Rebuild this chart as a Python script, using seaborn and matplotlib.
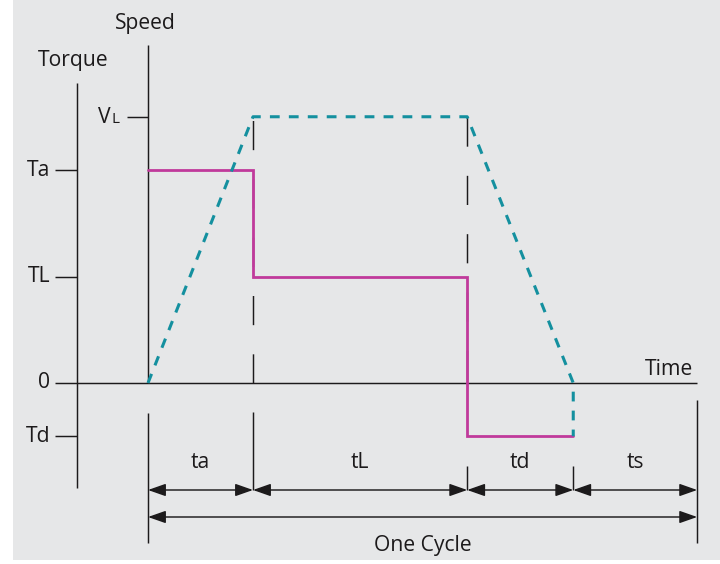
import matplotlib
matplotlib.use("Agg")
import matplotlib.pyplot as plt
from matplotlib.patches import Rectangle
import seaborn as sns

# durations of the phases (time units)
phase_names = ["ta", "tL", "td", "ts"]
durations = [1.0, 2.04, 1.01, 1.18]

# torque levels
torque_labels = ["Ta", "TL", "0", "Td"]
torque_levels = [2.0, 1.0, 0.0, -0.5]

# speed level
speed_label = "VL"
speed_max = 2.5

# boundaries of the phases
bounds = [0.0]
for d in durations:
    bounds.append(bounds[-1] + d)
t0, t1, t2, t3, t4 = bounds
Ta, TL, T0, Td = torque_levels

# torque profile (steps)
torque_t = [t0, t1, t1, t2, t2, t3]
torque_v = [Ta, Ta, TL, TL, Td, Td]

# speed profile (trapezoid, then the dashed drop to Td)
speed_t = [t0, t1, t2, t3, t3]
speed_v = [0.0, speed_max, speed_max, 0.0, Td]

BLACK = "#1c1a1b"
MAGENTA = "#c03a9b"
TEAL = "#14909f"
BG = "#e6e7e8"

sns.set_theme(style="white")
plt.rcParams["font.family"] = ["Open Sans", "DejaVu Sans"]
FS = 15.2

fig = plt.figure(figsize=(7.2, 5.64), dpi=100)
fig.patch.set_facecolor("white")
fig.patches.append(Rectangle((13 / 720, 4 / 564), 1, 1, transform=fig.transFigure,
                             facecolor=BG, edgecolor="none", zorder=-5))

ax = fig.add_axes([0, 0, 1, 1])
ax.set_facecolor("none")
ax.axis("off")

# pixel -> data mapping helpers (layout only)
PX_T = 105.0
PX_V = 106.5
def X(px):
    return (px - 148) / PX_T
def Y(py):
    return (383 - py) / PX_V

ax.set_xlim(X(0), X(720))
ax.set_ylim(Y(564), Y(0))

line_kw = dict(color=BLACK, lw=1.05, solid_capstyle="butt")

# axes lines
ax.plot([X(77), X(77)], [Y(83), Y(488)], **line_kw)          # torque axis
ax.plot([t0, t0], [Y(45), 0], **line_kw)                      # speed axis
ax.plot([X(55), t4], [0, 0], **line_kw)                       # time axis

# torque ticks and labels
for lab, lev in zip(torque_labels, torque_levels):
    if lab != "0":
        ax.plot([X(55), X(77)], [lev, lev], **line_kw)
    ax.text(X(50), lev, lab, ha="right", va="center", fontsize=FS, color=BLACK)

# speed tick and label
ax.plot([X(127), t0], [speed_max, speed_max], **line_kw)
ax.text(X(111), Y(123), "V", ha="right", va="baseline", fontsize=FS, color=BLACK)
ax.text(X(111.5), Y(123), "L", ha="left", va="baseline", fontsize=FS * 0.72, color=BLACK)

ax.text(X(145), Y(29), "Speed", ha="center", va="baseline", fontsize=FS, color=BLACK)
ax.text(X(73), Y(66), "Torque", ha="center", va="baseline", fontsize=FS, color=BLACK)
ax.text(X(693), Y(375), "Time", ha="right", va="baseline", fontsize=FS, color=BLACK)

# dashed guide lines
ax.plot([t1, t1], [0, speed_max], color=BLACK, lw=1.05, linestyle=(0, (20, 20)), zorder=1)
ax.plot([t2, t2], [speed_max, 0], color=BLACK, lw=1.05, linestyle=(0, (20, 20)), zorder=1)

# profiles
sns.lineplot(x=torque_t, y=torque_v, sort=False, estimator=None, ax=ax,
             color=MAGENTA, lw=2.0, zorder=3)
ax.lines[-1].set_solid_joinstyle("miter")
sns.lineplot(x=speed_t, y=speed_v, sort=False, estimator=None, ax=ax,
             color=TEAL, lw=2.2, linestyle=(0, (3.2, 3.0)), zorder=4)

# dimension marker lines
ax.plot([t0, t0], [Y(413), Y(543)], **line_kw)
ax.plot([t1, t1], [Y(412), Y(490)], **line_kw)
ax.plot([t2, t2], [Y(466), Y(490)], **line_kw)
ax.plot([t3, t3], [Y(466), Y(490)], **line_kw)
ax.plot([t4, t4], [Y(400), Y(543)], **line_kw)

arrow_kw = dict(arrowstyle="<|-|>,head_length=0.54,head_width=0.19", mutation_scale=20,
                shrinkA=0, shrinkB=0, lw=1.05, color=BLACK)
for name, a, b in zip(phase_names, bounds[:-1], bounds[1:]):
    ax.annotate("", xy=(b, Y(490)), xytext=(a, Y(490)), arrowprops=arrow_kw)
    ax.text((a + b) / 2, Y(468), name, ha="center", va="baseline", fontsize=FS, color=BLACK)

ax.annotate("", xy=(t4, Y(517)), xytext=(t0, Y(517)), arrowprops=arrow_kw)
ax.text((t0 + t4) / 2, Y(551), "One Cycle", ha="center", va="baseline", fontsize=FS, color=BLACK)

fig.savefig("out.png", dpi=100, facecolor=fig.get_facecolor())
